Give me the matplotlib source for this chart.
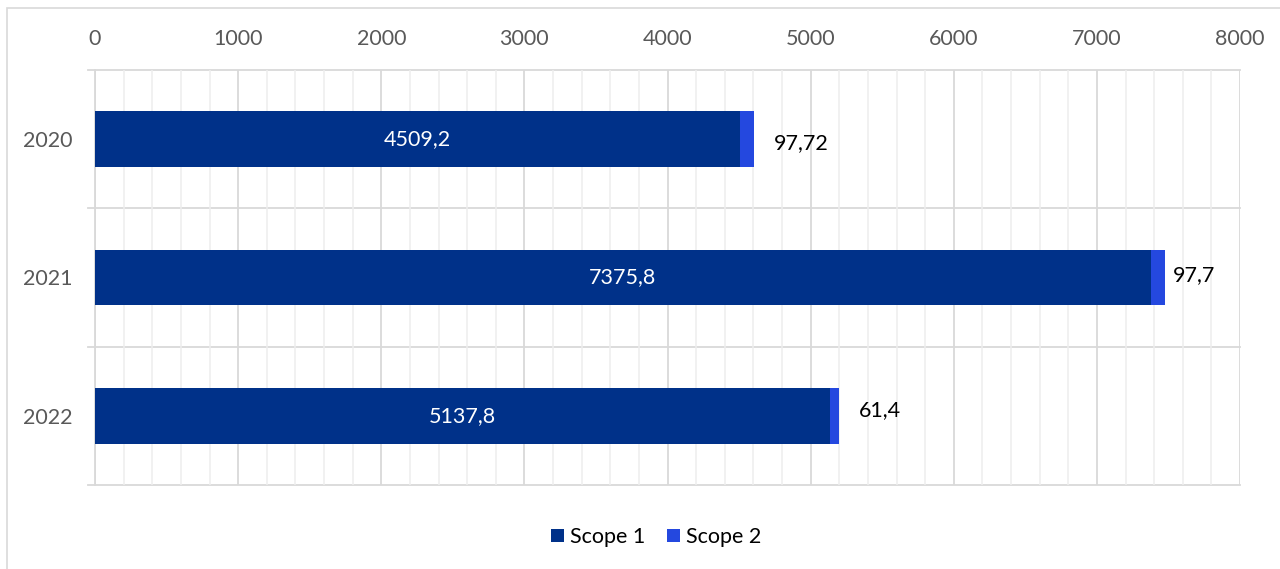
import numpy as np
import matplotlib.pyplot as plt
from matplotlib.patches import Rectangle
from matplotlib.ticker import MultipleLocator

years = ["2020", "2021", "2022"]
scope1 = [4509.2, 7375.8, 5137.8]
scope2 = [97.72, 97.7, 61.4]
scope1_labels = ["4509,2", "7375,8", "5137,8"]
scope2_labels = ["97,72", "97,7", "61,4"]

c1 = "#003189"
c2 = "#2448df"
grid_major = "#d9d9d9"
grid_minor = "#eeeeee"
plt.rcParams["font.family"] = ["Lato", "DejaVu Sans"]

fig = plt.figure(figsize=(12.8, 5.69), dpi=100)
ax = fig.add_axes([95 / 1280, 1 - 485 / 569, 1145 / 1280, 415 / 569])

y = np.arange(len(years))
ax.barh(y, scope1, height=0.4, color=c1, label="Scope 1", zorder=3)
ax.barh(y, scope2, left=scope1, height=0.4, color=c2, label="Scope 2", zorder=3)

# outside labels were nudged by hand in the original
nudge = [(14, -3), (6, 2), (14, 4)]
for i in range(len(years)):
    ax.text(scope1[i] / 2, y[i], scope1_labels[i], color="white", fontsize=15.5,
            ha="center", va="center", zorder=4)
    ax.annotate(scope2_labels[i], (scope1[i] + scope2[i], y[i]),
                xytext=nudge[i], textcoords="offset points",
                fontsize=15.5, ha="left", va="center", color="black", zorder=4)

ax.set_xlim(0, 8000)
ax.set_ylim(2.5, -0.5)
ax.xaxis.set_major_locator(MultipleLocator(1000))
ax.xaxis.set_minor_locator(MultipleLocator(200))
ax.xaxis.tick_top()
ax.tick_params(axis="x", which="both", length=0, pad=15, labelsize=15.5,
               labelcolor="#595959")
ax.set_yticks(y)
ax.set_yticklabels(years)
ax.tick_params(axis="y", length=0, pad=16, labelsize=15.5, labelcolor="#595959")

ax.grid(axis="x", which="major", color=grid_major, lw=1.3, zorder=1)
ax.grid(axis="x", which="minor", color=grid_minor, lw=1.1, zorder=0)
for b in [-0.5, 0.5, 1.5, 2.5]:
    ax.plot([-50, 8000], [b, b], color=grid_major, lw=1.3, zorder=1,
            clip_on=False)

for s in ["top", "right", "bottom"]:
    ax.spines[s].set_visible(False)
ax.spines["left"].set_color(grid_major)
ax.spines["left"].set_linewidth(1.3)

ax.legend(loc="center", bbox_to_anchor=(0.5 + 16 / 1280, (569 - 537) / 569),
          bbox_transform=fig.transFigure, ncol=2, frameon=False, fontsize=15.5,
          handlelength=0.6, handleheight=0.6, handletextpad=0.3, columnspacing=1.0)

fig.patches.append(Rectangle((7 / 1280, -0.05), 1.05, 1 - 8 / 569 + 0.05,
                             transform=fig.transFigure, fill=False,
                             edgecolor="#d9d9d9", lw=1.2))

fig.savefig("out.png", dpi=100)
